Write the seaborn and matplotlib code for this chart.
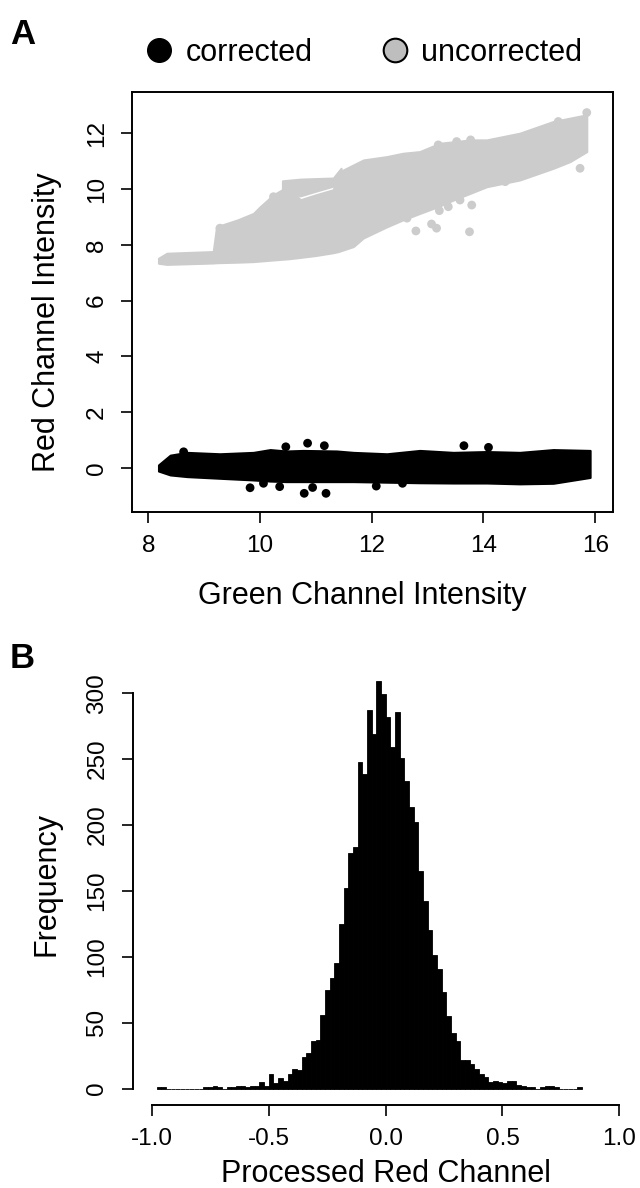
import numpy as np
import pandas as pd
import matplotlib
matplotlib.use("Agg")
import matplotlib.pyplot as plt
from matplotlib.lines import Line2D
import seaborn as sns

# ---------------- panel A: red vs green intensity ----------------
# uncorrected points (grey): the cloud is so dense it reads as a band,
# so keep its outline (lower / upper edge) plus the stray dots
grey_x  = [8.18, 8.33, 9.16, 9.22, 9.60, 9.88, 10.00, 10.24, 10.50, 10.72, 11.00, 11.31,
           11.40, 11.67, 11.85, 12.27, 12.56, 12.86, 13.22, 13.46, 13.76, 14.06, 14.65,
           15.25, 15.55, 15.85]
grey_lo = [7.34, 7.30, 7.35, 7.36, 7.38, 7.40, 7.42, 7.46, 7.50, 7.55, 7.62, 7.72,
           7.76, 7.94, 8.25, 8.65, 8.90, 9.13, 9.40, 9.61, 9.85, 10.09, 10.33,
           10.75, 10.99, 11.35]
grey_hi = [7.52, 7.70, 7.76, 8.65, 8.90, 9.13, 9.37, 9.80, 10.10, 9.62, 9.80, 9.98,
           10.60, 10.87, 11.05, 11.17, 11.29, 11.35, 11.65, 11.70, 11.77, 11.77, 12.01,
           12.43, 12.55, 12.67]
# upper branch above the thin white slit near x = 11
lobe_x  = [10.40, 10.72, 11.00, 11.31, 11.45]
lobe_lo = [10.00, 9.76, 9.93, 10.11, 10.50]
lobe_hi = [10.30, 10.36, 10.38, 10.40, 10.75]
grey_dot_x = [12.79, 13.16, 13.07, 13.75, 15.73, 12.63, 13.21, 13.37, 13.79, 13.52,
              13.77, 13.19, 15.85, 15.34, 9.28, 10.24, 14.39, 13.58, 12.69]
grey_dot_y = [8.50, 8.60, 8.75, 8.47, 10.75, 8.96, 9.23, 9.37, 9.43, 11.71,
              11.77, 11.59, 12.75, 12.43, 8.60, 9.73, 10.27, 9.61, 9.31]

# corrected points (black)
black_x  = [8.18, 8.39, 8.69, 9.28, 9.88, 10.18, 10.47, 10.77, 11.37, 11.67, 12.27,
            12.86, 13.46, 14.06, 14.65, 15.25, 15.91]
black_lo = [-0.12, -0.26, -0.32, -0.38, -0.44, -0.48, -0.50, -0.50, -0.50, -0.50, -0.52,
            -0.54, -0.55, -0.55, -0.58, -0.56, -0.35]
black_hi = [0.10, 0.45, 0.55, 0.50, 0.55, 0.65, 0.60, 0.62, 0.60, 0.55, 0.50,
            0.62, 0.55, 0.58, 0.55, 0.65, 0.62]
black_dot_x = [10.85, 11.15, 10.46, 13.65, 14.09, 9.82, 10.06, 10.35, 10.79, 10.94,
               11.18, 12.08, 12.55, 8.63]
black_dot_y = [0.88, 0.79, 0.75, 0.79, 0.73, -0.72, -0.56, -0.68, -0.92, -0.71,
               -0.92, -0.66, -0.56, 0.57]

x_ticks_a = [8, 10, 12, 14, 16]
y_ticks_a = [0, 2, 4, 6, 8, 10, 12]

# ---------------- panel B: histogram of processed red channel ----------------
hist_start = -0.98   # first break
hist_width = 0.02
hist_counts = [1, 1, 0, 0, 0, 0, 0, 0, 0, 0, 1, 1, 2, 1, 0, 1, 1, 2, 2, 1, 2, 2,
               5, 2, 11, 4, 8, 6, 11, 15, 14, 24, 27, 36, 37, 56,
               75, 84, 95, 125, 152, 179, 183, 248, 239, 287, 269, 309, 299, 282,
               259, 286, 251, 233, 214, 202, 165, 142, 120, 101, 91, 73,
               55, 42, 36, 22, 22, 19, 15, 11, 9, 5, 6, 5, 4, 6, 6, 3, 2, 1, 1, 0,
               1, 2, 2, 1, 0, 0, 0, 0, 1]
x_ticks_b = [-1.0, -0.5, 0.0, 0.5, 1.0]
y_ticks_b = [0, 50, 100, 150, 200, 250, 300]

GREY = "#CCCCCC"

sns.set_theme(style="white")
plt.rcParams["font.family"] = ["Liberation Sans", "DejaVu Sans"]
plt.rcParams["axes.unicode_minus"] = False
for key in ["text.color", "axes.labelcolor", "xtick.color", "ytick.color"]:
    plt.rcParams[key] = "black"

W, H = 640, 1188
fig = plt.figure(figsize=(W / 100, H / 100), dpi=100)
axA = fig.add_axes([131.7 / W, 1 - 511.7 / H, 481.3 / W, 420 / H])
axB = fig.add_axes([133.3 / W, 1 - 1105 / H, 504.7 / W, 441.4 / H])

# --- A ---
axA.fill_between(grey_x, grey_lo, grey_hi, color=GREY, lw=1.5)
axA.fill_between(lobe_x, lobe_lo, lobe_hi, color=GREY, lw=1.5)
sns.scatterplot(x=grey_dot_x, y=grey_dot_y, color=GREY, s=40, edgecolor="none", ax=axA)
axA.fill_between(black_x, black_lo, black_hi, color="black", lw=1.5)
sns.scatterplot(x=black_dot_x, y=black_dot_y, color="black", s=40, edgecolor="none", ax=axA)

axA.set_xlim(7.70, 16.32)
axA.set_ylim(-1.58, 13.5)
axA.set_xticks(x_ticks_a)
axA.set_yticks(y_ticks_a)
for s in axA.spines.values():
    s.set_color("black")
    s.set_linewidth(1.4)
axA.tick_params(axis="both", direction="out", length=8, width=1.2, color="black",
                labelsize=17.5, pad=9, bottom=True, left=True)
axA.tick_params(axis="y", labelrotation=90)
for t in axA.get_yticklabels():
    t.set_va("center")
axA.set_xlabel("Green Channel Intensity", fontsize=22, va="center")
axA.set_ylabel("Red Channel Intensity", fontsize=22, va="center")
axA.xaxis.set_label_coords(0.48, (511.7 - 596) / 420)
axA.yaxis.set_label_coords((47 - 131.7) / 481.3, (511.7 - 321.7) / 420)

h1 = Line2D([], [], ls="", marker="o", ms=17, mfc="black", mec="black")
h2 = Line2D([], [], ls="", marker="o", ms=17, mfc="#BEBEBE", mec="black", mew=1.5)
axA.legend([h1, h2], ["corrected", "uncorrected"], loc="center",
           bbox_to_anchor=((363 - 131.7) / 481.3, (511.7 - 53) / 420), ncol=2,
           frameon=False, fontsize=22, handlelength=1.0, handletextpad=0.35,
           columnspacing=2.2, borderaxespad=0, borderpad=0)

# --- B ---
edges = np.round(hist_start + hist_width * np.arange(len(hist_counts) + 1), 2)
hist_df = pd.DataFrame({"value": (edges[:-1] + edges[1:]) / 2, "n": hist_counts})
sns.histplot(data=hist_df, x="value", weights="n", bins=list(edges), color="black",
             edgecolor="black", linewidth=0.6, alpha=1, ax=axB)
axB.set_xlim(-1.08, 1.08)
axB.set_ylim(-12.4, 322.4)
axB.set_xticks(x_ticks_b)
axB.set_xticklabels(["%.1f" % v for v in x_ticks_b])
axB.set_yticks(y_ticks_b)
for side in ["top", "right"]:
    axB.spines[side].set_visible(False)
axB.spines["left"].set_bounds(0, 300)
axB.spines["bottom"].set_bounds(-1.0, 1.0)
for side in ["left", "bottom"]:
    axB.spines[side].set_color("black")
    axB.spines[side].set_linewidth(1.4)
axB.tick_params(axis="both", direction="out", length=8, width=1.2, color="black",
                labelsize=17.5, pad=8.5, bottom=True, left=True)
axB.tick_params(axis="y", labelrotation=90, pad=10)
for t in axB.get_yticklabels():
    t.set_va("center")
axB.set_xlabel("Processed Red Channel", fontsize=22, va="center")
axB.set_ylabel("Frequency", fontsize=22, va="center")
axB.xaxis.set_label_coords(0.5, (1105 - 1174) / 441.4)
axB.yaxis.set_label_coords((47 - 133.3) / 504.7, 0.5)

fig.text(22.5 / W, 1 - 34 / H, "A", fontsize=25, fontweight="bold", ha="center", va="center")
fig.text(22.5 / W, 1 - 658 / H, "B", fontsize=25, fontweight="bold", ha="center", va="center")

fig.savefig("out.png", dpi=100)
